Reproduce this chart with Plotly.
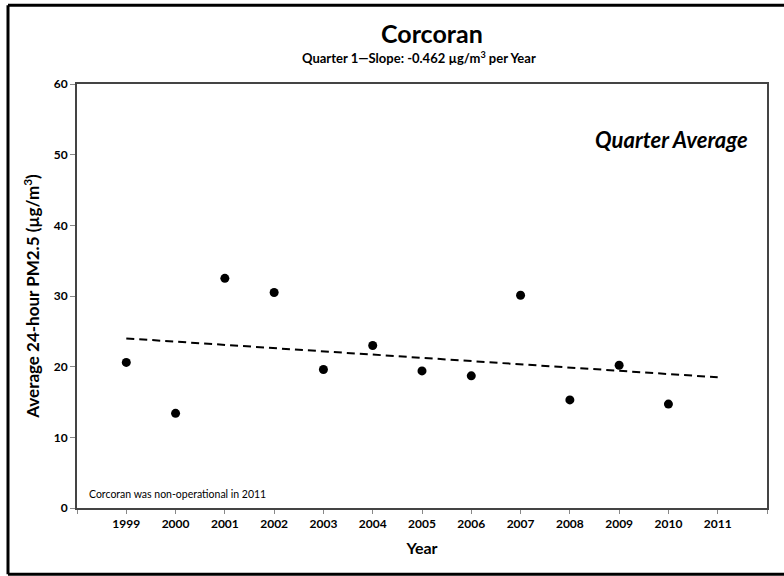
import plotly.graph_objects as go

# quarter 1 averages
years = [1999, 2000, 2001, 2002, 2003, 2004, 2005, 2006, 2007, 2008, 2009, 2010]
pm25 = [20.6, 13.4, 32.5, 30.5, 19.6, 23.0, 19.4, 18.7, 30.1, 15.3, 20.2, 14.7]

# trend line end points (slope -0.462 per year)
trend_years = [1999, 2011]
trend_values = [24.0, 18.5]

tick_years = list(range(1998, 2013))
tick_labels = [" "] + [str(y) for y in range(1999, 2012)] + [" "]

font_family = "Lato"

fig = go.Figure()

fig.add_trace(go.Scatter(
    x=trend_years, y=trend_values, mode="lines",
    line=dict(color="black", width=2, dash="8px,5px"),
    hoverinfo="skip", showlegend=False,
))
fig.add_trace(go.Scatter(
    x=years, y=pm25, mode="markers",
    marker=dict(color="black", size=9),
    showlegend=False,
))

# outer frame: left, top and bottom only, the right side is cut off in the source
fx0, fx1, fy0, fy1 = -0.1, 1.03, -0.156, 1.186
frame = dict(type="line", xref="paper", yref="paper",
             line=dict(color="black", width=3), layer="below")

fig.update_layout(
    width=784, height=576,
    margin=dict(l=77, r=17, t=84, b=68),
    paper_bgcolor="white", plot_bgcolor="white",
    font=dict(family=font_family, color="black"),
    xaxis=dict(
        range=[1998, 2012], tickvals=tick_years, ticktext=tick_labels,
        ticks="outside", ticklen=4, tickcolor="#888", showgrid=False, zeroline=False,
        showline=True, linecolor="#444", linewidth=2, mirror=True, automargin=False,
        tickfont=dict(size=12, weight="bold"),
        title=dict(text="Year", font=dict(size=16, weight="bold"), standoff=12),
    ),
    yaxis=dict(
        range=[0, 60], dtick=10, ticks="outside", ticklen=5, tickcolor="#888",
        showgrid=False, zeroline=False, automargin=False,
        showline=True, linecolor="#444", linewidth=2, mirror=True,
        tickfont=dict(size=12, weight="bold"),
        title=dict(text="Average 24-hour PM2.5 (µg/m<sup>3</sup>)",
                   font=dict(size=17, weight="bold"), standoff=10),
    ),
    annotations=[
        dict(text="<b>Corcoran</b>", x=0.515, y=1.0 + (84 - 33) / 424,
             xref="paper", yref="paper", showarrow=False,
             font=dict(size=25), xanchor="center", yanchor="middle"),
        dict(text="<b>Quarter 1\u2014Slope: -0.462 µg/m<sup>3</sup> per Year</b>",
             x=0.495, y=1.0 + (84 - 58) / 424,
             xref="paper", yref="paper", showarrow=False,
             font=dict(size=13), xanchor="center", yanchor="middle"),
        dict(text="<b><i>Quarter Average</i></b>", x=0.975, y=0.87,
             xref="paper", yref="paper", showarrow=False,
             font=dict(size=22), xanchor="right", yanchor="middle"),
        dict(text="Corcoran was non-operational in 2011", x=0.014, y=0.033,
             xref="paper", yref="paper", showarrow=False,
             font=dict(size=10.5), xanchor="left", yanchor="middle"),
    ],
    shapes=[
        dict(frame, x0=fx0, x1=fx0, y0=fy0, y1=fy1),
        dict(frame, x0=fx0, x1=fx1, y0=fy1, y1=fy1),
        dict(frame, x0=fx0, x1=fx1, y0=fy0, y1=fy0),
    ],
)

# drop the browser's default 8px page margin so the figure sits at the corner
fig.write_html("out.html", config={"displayModeBar": False},
               post_script="document.body.style.margin='0';")
